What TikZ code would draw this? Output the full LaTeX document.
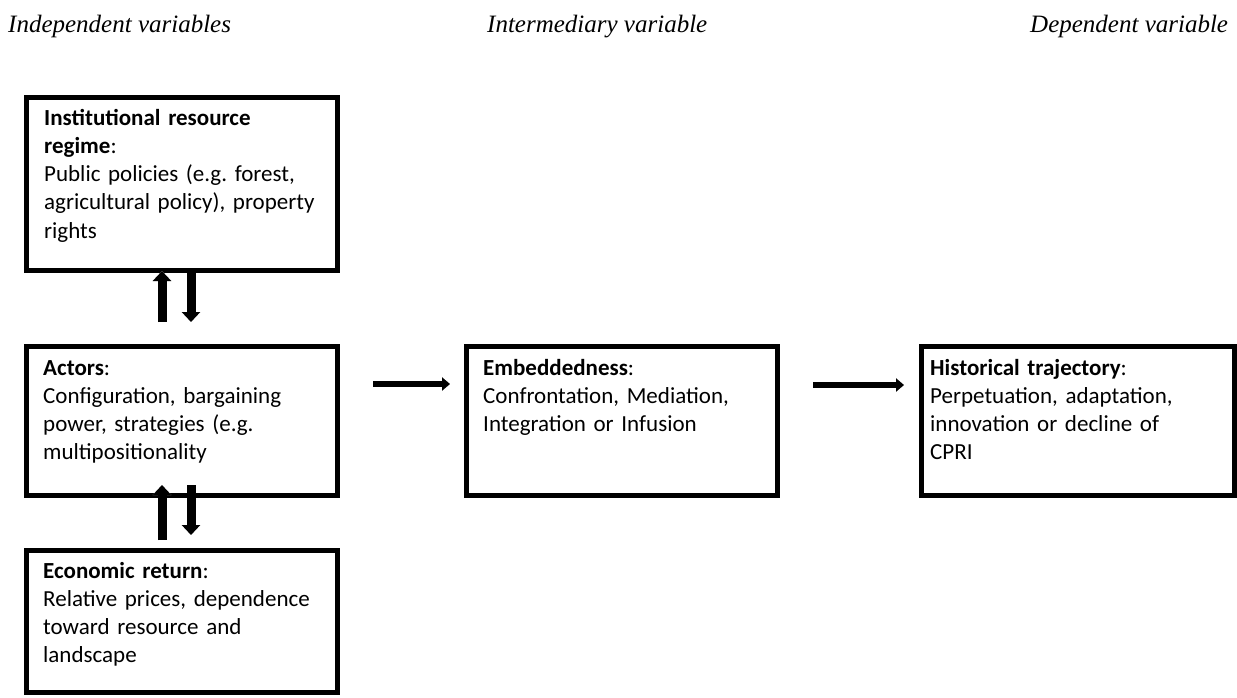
\documentclass[tikz,border=0pt]{standalone}
\usepackage{fontspec}
\setmainfont{Carlito}
\newfontfamily\hdrfont{Liberation Serif}
\usetikzlibrary{arrows.meta}
\frenchspacing
\begin{document}
\begin{tikzpicture}[x=1pt,y=-1pt,
  box/.style={draw=black, line width=5pt, rectangle, inner sep=0pt, outer sep=0pt, anchor=north west},
  boxtext/.style={anchor=base west, inner sep=0pt, text width=300pt, align=left, font=\fontsize{23}{28.3}\selectfont},
  hdr/.style={anchor=base west, inner sep=0pt, font=\hdrfont\itshape\fontsize{25}{30}\selectfont},
  vtarr/.style={line width=9pt, -{Triangle[width=18pt,length=10pt]}},
  hzarr/.style={line width=6.5pt, -{Triangle[width=13pt,length=8pt]}},
  arrshadow/.style={draw=black!18, shift={(1.5,2.5)}}
]
\useasboundingbox (0,0) rectangle (1237,697);
\fill[white] (0,0) rectangle (1237,697);

% headers
\node[hdr] (h1) at (8,32) {Independent variables};
\node[hdr] (h2) at (487,32) {Intermediary variable};
\node[hdr] (h3) at (1030,32) {Dependent variable};

% boxes
\node[box, minimum width=311pt, minimum height=173pt] (ir) at (26.5,97.5) {};
\node[box, minimum width=311pt, minimum height=148.5pt] (ac) at (26.5,346.5) {};
\node[box, minimum width=311pt, minimum height=142pt] (ec) at (26.5,550.5) {};
\node[box, minimum width=311pt, minimum height=148.5pt] (em) at (466.5,346.5) {};
\node[box, minimum width=313pt, minimum height=148.5pt] (ht) at (921.5,346.5) {};

% box texts
\node[boxtext] (irt) at (44,125) {\textbf{Institutional resource}\\\textbf{regime}:\\Public policies (e.g. forest,\\agricultural policy), property\\rights};
\node[boxtext] (act) at (43,375) {\textbf{Actors}:\\Configuration, bargaining\\power, strategies (e.g.\\multipositionality};
\node[boxtext] (ect) at (43,578) {\textbf{Economic return}:\\Relative prices, dependence\\toward resource and\\landscape};
\node[boxtext] (emt) at (483,375) {\textbf{Embeddedness}:\\Confrontation, Mediation,\\Integration or Infusion};
\node[boxtext] (htt) at (930,375) {\textbf{Historical trajectory}:\\Perpetuation, adaptation,\\innovation or decline of\\CPRI};

% arrow end points
\coordinate (a1s) at (162,322); \coordinate (a1e) at (162,271);
\coordinate (a2s) at (191,272); \coordinate (a2e) at (191,322);
\coordinate (a3s) at (162,540); \coordinate (a3e) at (162,485);
\coordinate (a4s) at (191,485); \coordinate (a4e) at (191,535);
\coordinate (a5s) at (373,384); \coordinate (a5e) at (450,384);
\coordinate (a6s) at (813,385); \coordinate (a6e) at (904,385);

% soft shadows
\draw[vtarr, arrshadow] (a1s) -- (a1e);
\draw[vtarr, arrshadow] (a2s) -- (a2e);
\draw[vtarr, arrshadow] (a3s) -- (a3e);
\draw[vtarr, arrshadow] (a4s) -- (a4e);
\draw[hzarr, arrshadow] (a5s) -- (a5e);
\draw[hzarr, arrshadow] (a6s) -- (a6e);

\draw[vtarr] (a1s) -- (a1e);
\draw[vtarr] (a2s) -- (a2e);
\draw[vtarr] (a3s) -- (a3e);
\draw[vtarr] (a4s) -- (a4e);
\draw[hzarr] (a5s) -- (a5e);
\draw[hzarr] (a6s) -- (a6e);
\end{tikzpicture}
\end{document}
